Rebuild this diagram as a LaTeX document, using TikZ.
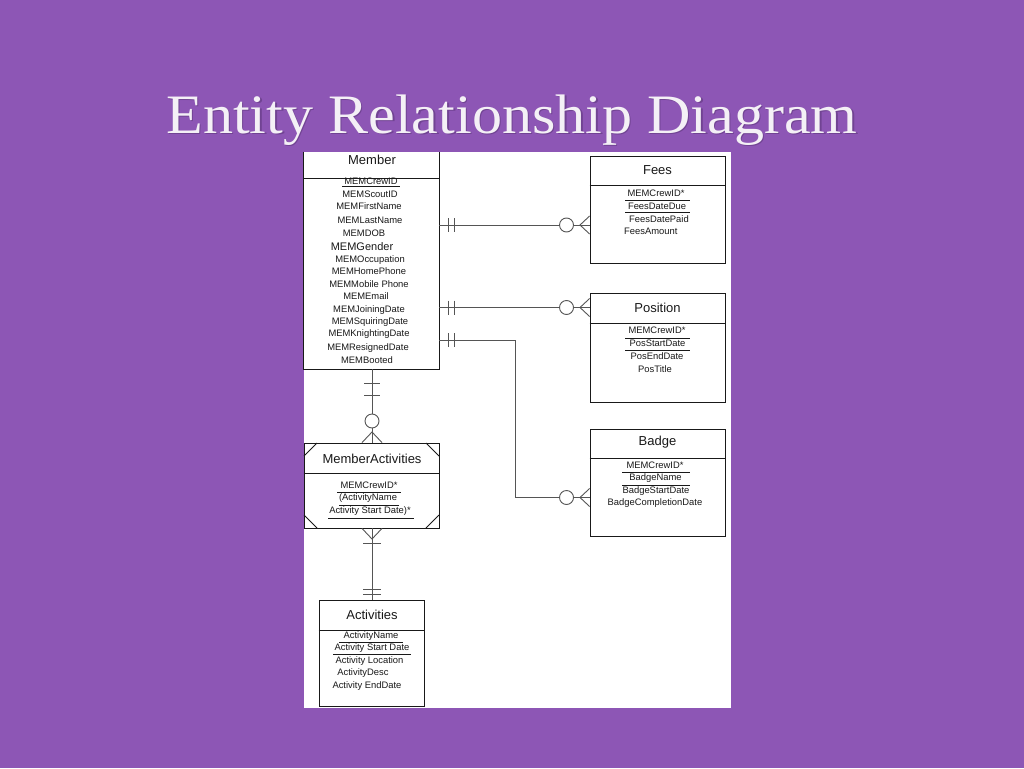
\documentclass[tikz,border=0pt]{standalone}
\usepackage{fontspec}
\usepackage{graphicx}
\newfontfamily\diag{Liberation Sans}
\newfontfamily\titlefont{Liberation Serif}
\definecolor{bgpurple}{RGB}{141,86,181}
\definecolor{ink}{RGB}{25,25,25}
\definecolor{conn}{RGB}{85,85,85}
\definecolor{titlecol}{RGB}{244,240,246}
\definecolor{shadowcol}{RGB}{95,55,125}
\begin{document}
\begin{tikzpicture}[x=1pt,y=-1pt,
  ent/.style={draw=ink, line width=0.8pt, fill=white, inner sep=0pt},
  hdr/.style={font=\diag\fontsize{13}{14}\selectfont, text=ink, inner sep=0pt},
  att/.style={font=\diag\fontsize{9.4}{10}\selectfont, text=ink, inner sep=0pt},
  sep/.style={draw=ink, line width=0.8pt},
  ul/.style={draw=ink, line width=0.6pt},
  rel/.style={draw=conn, line width=0.9pt},
  circ/.style={draw=conn, line width=0.9pt, fill=white},
  ttl/.style={anchor=base, inner sep=0pt},
]
\useasboundingbox (0,0) rectangle (1024,768);
\fill[bgpurple] (0,0) rectangle (1024,768);
\fill[white] (304,152) rectangle (731,708);

% title
\node[ttl, text=shadowcol, opacity=0.6] (titleshadow) at (513.5,134.5)
  {\titlefont\resizebox{691pt}{!}{\scalebox{1.08}[1]{\fontsize{65}{70}\selectfont Entity Relationship Diagram}}};
\node[ttl, text=titlecol] (title) at (512,133)
  {\titlefont\resizebox{691pt}{!}{\scalebox{1.08}[1]{\fontsize{65}{70}\selectfont Entity Relationship Diagram}}};

% ---------- entities ----------
\node[ent, draw=none, minimum width=135pt, minimum height=217pt] (member) at (371.5,260.5) {};
\draw[sep] (member.north west) -- (member.south west) -- (member.south east) -- (member.north east);
\draw[sep] (member.west |- 0,178) -- (member.east |- 0,178);
\node[hdr] (memberh) at (372,160) {Member};

\node[ent, minimum width=135pt, minimum height=107pt] (fees) at (657.5,209.5) {};
\draw[sep] (fees.west |- 0,185) -- (fees.east |- 0,185);
\node[hdr] (feesh) at (657.5,170) {Fees};

\node[ent, minimum width=135pt, minimum height=109pt] (position) at (657.5,347.5) {};
\draw[sep] (position.west |- 0,323) -- (position.east |- 0,323);
\node[hdr] (positionh) at (657.5,307.5) {Position};

\node[ent, minimum width=135pt, minimum height=107pt] (badge) at (657.5,482.5) {};
\draw[sep] (badge.west |- 0,458) -- (badge.east |- 0,458);
\node[hdr] (badgeh) at (657.5,442.5) {Badge};

\node[ent, minimum width=135pt, minimum height=85pt] (ma) at (371.5,485.5) {};
\draw[sep] (ma.west |- 0,473) -- (ma.east |- 0,473);
\node[hdr] (mah) at (372,458.5) {MemberActivities};
\draw[sep] (304,456) -- (317,443);
\draw[sep] (426,443) -- (439,456);
\draw[sep] (304,515) -- (317,528);
\draw[sep] (426,528) -- (439,515);

\node[ent, minimum width=105pt, minimum height=106pt] (act) at (371.5,653) {};
\draw[sep] (act.west |- 0,630) -- (act.east |- 0,630);
\node[hdr] (acth) at (372,615) {Activities};

% ---------- attributes ----------
\foreach \t/\x/\y [count=\i] in {
  MEMCrewID/371/181, MEMScoutID/370/194, MEMFirstName/369/206.5,
  MEMLastName/370/220, MEMDOB/364/233}
  \node[att] (m\i) at (\x,\y) {\t};
\node[att, font=\diag\fontsize{11}{12}\selectfont] (m6) at (362,247) {MEMGender};
\foreach \t/\x/\y [count=\i from 7] in {
  MEMOccupation/370/260, MEMHomePhone/369/271.5, MEMMobile Phone/369/284,
  MEMEmail/366/296, MEMJoiningDate/369/310, MEMSquiringDate/370/322,
  MEMKnightingDate/369/334.5, MEMResignedDate/368/348, MEMBooted/367/360}
  \node[att] (m\i) at (\x,\y) {\t};
\draw[ul] (342,186.5) -- (400,186.5);

\node[att] (f1) at (656,193) {MEMCrewID*};
\node[att] (f2) at (657,206) {FeesDateDue};
\node[att] (f3) at (659,219) {FeesDatePaid};
\node[att, anchor=west] (f4) at (624,231.5) {FeesAmount};
\draw[ul] (625,200) -- (690,200);
\draw[ul] (625,212.5) -- (690,212.5);

\node[att] (p1) at (657,330.5) {MEMCrewID*};
\node[att] (p2) at (657.5,343.5) {PosStartDate};
\node[att] (p3) at (657,356.5) {PosEndDate};
\node[att] (p4) at (655,369.5) {PosTitle};
\draw[ul] (625,338) -- (690,338);
\draw[ul] (625,350.5) -- (690,350.5);

\node[att] (b1) at (655,465) {MEMCrewID*};
\node[att] (b2) at (655.5,478) {BadgeName};
\node[att] (b3) at (656,491.5) {BadgeStartDate};
\node[att] (b4) at (655,503.5) {BadgeCompletionDate};
\draw[ul] (622,472) -- (690,472);
\draw[ul] (622,485.5) -- (690,485.5);

\node[att] (a1) at (369,485) {MEMCrewID*};
\node[att] (a2) at (368,498) {(ActivityName};
\node[att] (a3) at (370,511.5) {Activity Start Date)*};
\draw[ul] (337,492.5) -- (401,492.5);
\draw[ul] (339,505.5) -- (399,505.5);
\draw[ul] (328,518) -- (414,518);

\node[att] (c1) at (371,636) {ActivityName};
\node[att] (c2) at (372,648) {Activity Start Date};
\node[att] (c3) at (369.5,661) {Activity Location};
\node[att] (c4) at (363,673.5) {ActivityDesc};
\node[att] (c5) at (367,686) {Activity EndDate};
\draw[ul] (339,642) -- (403,642);
\draw[ul] (333,654.5) -- (411,654.5);

% ---------- relationships ----------
% Member -> Fees
\draw[rel] (member.east |- 0,225) -- (fees.west |- 0,225);
\draw[rel] (448.5,218) -- (448.5,232) (454.5,218) -- (454.5,232);
\draw[rel] (fees.west |- 0,216) -- (580,225) -- (fees.west |- 0,234);
\node[circ, circle, minimum size=14pt, inner sep=0pt] (cf) at (566.5,225) {};

% Member -> Position
\draw[rel] (member.east |- 0,307.5) -- (position.west |- 0,307.5);
\draw[rel] (448.5,300.5) -- (448.5,314.5) (454.5,300.5) -- (454.5,314.5);
\draw[rel] (position.west |- 0,298.5) -- (580,307.5) -- (position.west |- 0,316.5);
\node[circ, circle, minimum size=14pt, inner sep=0pt] (cp) at (566.5,307.5) {};

% Member -> Badge
\coordinate (bend1) at (515,340);
\coordinate (bend2) at (515,497.5);
\draw[rel] (member.east |- bend1) -- (bend1) -- (bend2) -- (badge.west |- bend2);
\draw[rel] (448.5,333) -- (448.5,347) (454.5,333) -- (454.5,347);
\draw[rel] (badge.west |- 0,488.5) -- (580,497.5) -- (badge.west |- 0,506.5);
\node[circ, circle, minimum size=14pt, inner sep=0pt] (cb) at (566.5,497.5) {};

% Member -> MemberActivities
\draw[rel] (member.south -| 372,0) -- (ma.north -| 372,0);
\draw[rel] (364,383) -- (380,383) (364,395) -- (380,395);
\draw[rel] (ma.north -| 362,0) -- (372,432) -- (ma.north -| 382,0);
\node[circ, circle, minimum size=14pt, inner sep=0pt] (cm) at (372,421) {};

% MemberActivities -> Activities
\draw[rel] (ma.south -| 372,0) -- (act.north -| 372,0);
\draw[rel] (ma.south -| 362,0) -- (372,539) -- (ma.south -| 382,0);
\draw[rel] (363,543) -- (381,543);
\draw[rel] (363,589.5) -- (381,589.5) (363,594.5) -- (381,594.5);
\end{tikzpicture}
\end{document}
